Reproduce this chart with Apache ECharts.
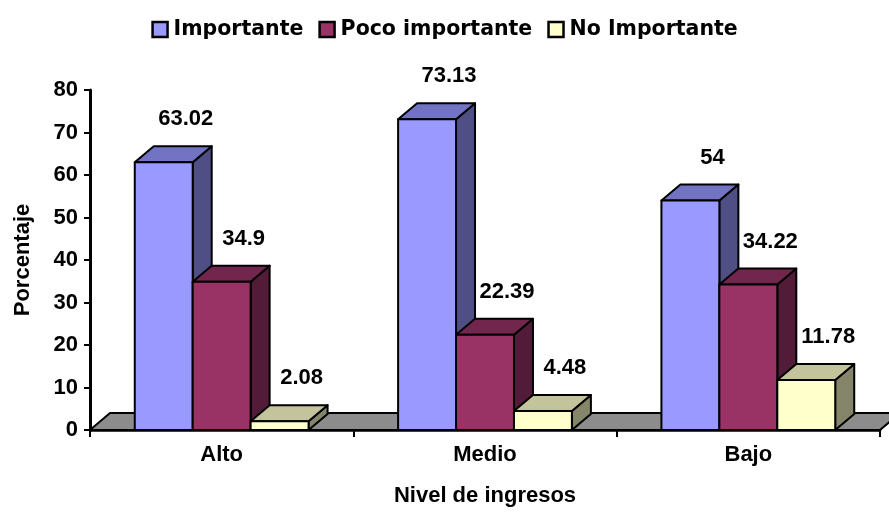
<!DOCTYPE html>
<html>
<head>
<meta charset="utf-8">
<script src="https://cdn.jsdelivr.net/npm/echarts@6/dist/echarts.min.js"></script>
<style>
html,body{margin:0;padding:0;background:#fff;}
#chart{width:889px;height:512px;}
</style>
</head>
<body>
<div id="chart"></div>
<script>
// ---- data ----
const categories = ['Alto', 'Medio', 'Bajo'];
const seriesNames = ['Importante', 'Poco importante', 'No Importante'];
const importante = [63.02, 73.13, 54];
const pocoImportante = [34.9, 22.39, 34.22];
const noImportante = [2.08, 4.48, 11.78];
const yTicks = { min: 0, max: 80, interval: 10 };

// ---- styles ----
const FRONT = ['#9999FF', '#993366', '#FFFFCC'];
const TOP = ['#7373C4', '#73264D', '#C4C49C'];
const SIDE = ['#4F4F85', '#521B37', '#85856A'];
const DX = 19, DY = -16;
const FONT = '"Liberation Sans", Arial, sans-serif';

const valueSets = [importante, pocoImportante, noImportante];

function makeBarSeries(s) {
  return {
    name: seriesNames[s],
    type: 'custom',
    z: 3 + s,
    itemStyle: { color: FRONT[s], borderColor: '#000', borderWidth: 2 },
    encode: { x: 0, y: 1 },
    data: valueSets[s].map((v, i) => [i, v]),
    renderItem: function (params, api) {
      const cat = api.value(0), val = api.value(1);
      const base = api.coord([cat, 0]);
      const top = api.coord([cat, val]);
      const band = api.size([1, 0])[0];
      const bw = band * 0.22;
      const x0 = base[0] - 1.5 * bw + s * bw;
      const x1 = x0 + bw;
      const yb = base[1], yt = top[1];
      const stroke = { stroke: '#000', lineWidth: 2, lineJoin: 'round' };
      return {
        type: 'group',
        children: [
          { type: 'polygon', shape: { points: [[x1, yt], [x1 + DX, yt + DY], [x1 + DX, yb + DY], [x1, yb]] },
            style: Object.assign({ fill: SIDE[s] }, stroke) },
          { type: 'polygon', shape: { points: [[x0, yt], [x0 + DX, yt + DY], [x1 + DX, yt + DY], [x1, yt]] },
            style: Object.assign({ fill: TOP[s] }, stroke) },
          { type: 'rect', shape: { x: x0, y: yt, width: bw, height: yb - yt },
            style: Object.assign({ fill: FRONT[s] }, stroke) },
          { type: 'text', z2: 100,
            style: { text: String(val), x: (x0 + x1) / 2 + 22, y: yt - 43,
              align: 'center', verticalAlign: 'middle',
              font: 'bold 22px ' + FONT, fill: '#000' } }
        ]
      };
    }
  };
}

const floorSeries = {
  name: 'floor',
  type: 'custom',
  z: 1,
  silent: true,
  data: [[0, 0]],
  encode: { x: 0, y: 1 },
  renderItem: function (params, api) {
    const cs = params.coordSys;
    const yb = cs.y + cs.height;
    const xl = cs.x, xr = cs.x + cs.width;
    return {
      type: 'polygon',
      shape: { points: [[xl, yb], [xl + DX + 1, yb + DY - 1], [xr + DX + 1, yb + DY - 1], [xr, yb]] },
      style: { fill: '#8C8C8C', stroke: '#000', lineWidth: 2, lineJoin: 'round' }
    };
  }
};

const chart = echarts.init(document.getElementById('chart'), null, { renderer: 'canvas' });
chart.setOption({
  animation: false,
  backgroundColor: '#fff',
  legend: {
    data: seriesNames,
    left: 'center',
    top: 14,
    icon: 'rect',
    itemWidth: 15,
    itemHeight: 15,
    itemGap: 15,
    itemStyle: { borderColor: '#000', borderWidth: 2.5 },
    textStyle: { fontFamily: '"DejaVu Sans", sans-serif', fontWeight: 'bold', fontSize: 20.5, color: '#000', padding: [0, 0, 0, 1] }
  },
  grid: { left: 90, right: 9, top: 90, bottom: 82 },
  xAxis: {
    type: 'category',
    data: categories,
    z: 10,
    name: 'Nivel de ingresos',
    nameLocation: 'middle',
    nameGap: 55,
    nameTextStyle: { fontFamily: FONT, fontWeight: 'bold', fontSize: 22, color: '#000', verticalAlign: 'top' },
    axisLine: { lineStyle: { color: '#000', width: 2.5 } },
    axisTick: { show: true, length: 7, lineStyle: { color: '#000', width: 2 } },
    axisLabel: { fontFamily: FONT, fontWeight: 'bold', fontSize: 22, color: '#000', margin: 14 },
    splitLine: { show: false }
  },
  yAxis: {
    type: 'value',
    min: yTicks.min,
    max: yTicks.max,
    interval: yTicks.interval,
    z: 10,
    name: 'Porcentaje',
    nameLocation: 'middle',
    nameGap: 56,
    nameTextStyle: { fontFamily: FONT, fontWeight: 'bold', fontSize: 22, color: '#000' },
    axisLine: { show: true, lineStyle: { color: '#000', width: 3 } },
    axisTick: { show: true, length: 6, lineStyle: { color: '#000', width: 2 } },
    axisLabel: { fontFamily: FONT, fontWeight: 'bold', fontSize: 22, color: '#000', margin: 12 },
    splitLine: { show: false }
  },
  series: [floorSeries, makeBarSeries(0), makeBarSeries(1), makeBarSeries(2)]
});
</script>
</body>
</html>
